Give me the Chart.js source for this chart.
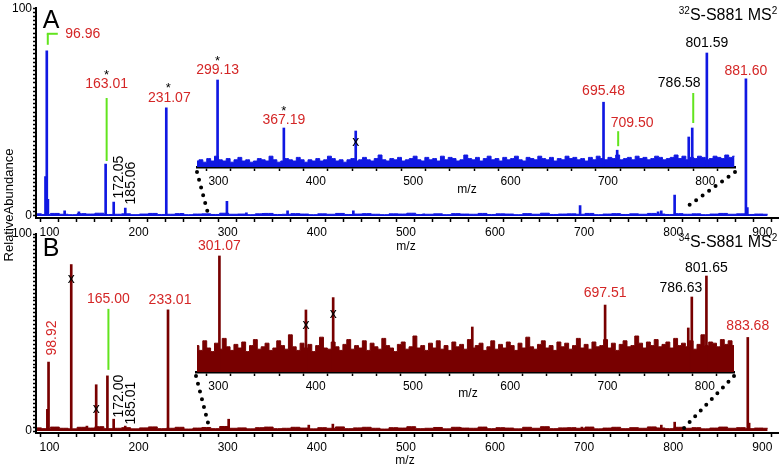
<!DOCTYPE html>
<html><head><meta charset="utf-8">
<script src="https://cdn.jsdelivr.net/npm/chart.js@4.4.0/dist/chart.umd.min.js"></script>
<style>
html,body{margin:0;padding:0;background:#fff;}
#wrap{position:relative;width:780px;height:468px;overflow:hidden;font-family:"Liberation Sans",Arial,sans-serif;}
canvas{position:absolute;left:0;}
.t{position:absolute;white-space:nowrap;color:#000;transform:translate(-50%,-50%);line-height:1;}
.t sup{font-size:10px;vertical-align:6px;}
</style></head><body>
<div id="wrap">
<canvas id="mainA" width="780" height="255" style="top:0"></canvas>
<canvas id="insetA" width="780" height="255" style="top:0"></canvas>
<canvas id="mainB" width="780" height="248" style="top:220px"></canvas>
<canvas id="insetB" width="780" height="248" style="top:220px"></canvas>
<div class="t" style="left:51px;top:19px;font-size:25px">A</div>
<div class="t" style="left:51px;top:247px;font-size:25px">B</div>
<div class="t" style="left:728px;top:14px;font-size:16px"><sup>32</sup>S-S881 MS<sup>2</sup></div>
<div class="t" style="left:728px;top:241px;font-size:16px"><sup>34</sup>S-S881 MS<sup>2</sup></div>
<div class="t" style="left:8px;top:205px;font-size:13px;transform:translate(-50%,-50%) rotate(-90deg)">RelativeAbundance</div>
<div class="t" style="left:406px;top:246px;font-size:12px">m/z</div>
<div class="t" style="left:405px;top:460px;font-size:12px">m/z</div>
<div class="t" style="left:467px;top:189px;font-size:12px">m/z</div>
<div class="t" style="left:468px;top:393px;font-size:12px">m/z</div>
</div>
<script>
// 主譜 A (32S): 峰位與相對強度
const peaksA_mz=[95.5,96.96,98.2,117,133,163.01,172.05,185.06,231.07,248,299.13,321,340,367.19,441,520,695.48,783,786.58,801.59,881.6,883.2];
const peaksA_int=[19,79.5,8,2.5,2,25,6.7,3.8,52,1.2,7,1.5,1.2,2.5,2.5,1,5,2,2.5,10,66,4];
// 放大區 A
const insetA_mz=[299.13,367.19,441,695.48,709.5,783,786.58,801.59];
const insetA_int=[72.5,32.5,30,54,14,25,32.5,95];
// 主譜 B (34S)
const peaksB_mz=[97.6,98.92,124.4,142,152.4,165.0,172.0,185.01,233.01,301.07,391,418,561,697.51,783,786.63,801.65,883.68,885.2];
const peaksB_int=[11,35,84.5,2.5,23.5,28,6,2.5,61.5,6,3,3.5,1.8,2,1.5,3,4.5,47.5,4];
// 放大區 B
const insetB_mz=[301.07,390,418,561,697.51,783,786.63,801.65];
const insetB_int=[96.7,51.7,62,37.5,55.8,36.7,62.5,80];
// 基線雜訊 (主譜每10 m/z 從86起, 放大區每4 m/z 從278起)
const mainNoiseA=[1.0,0.7,1.2,0.8,0.6,1.1,0.9,1.3,0.7,0.8,1.0,0.6,0.9,1.2,0.7,0.8,1.1,0.6,0.9,1.0,0.7,1.3,0.8,0.9,0.6,1.0,1.2,0.7,0.8,1.1,0.9,0.6,1.0,0.8,1.2,0.7,0.9,1.1,0.8,0.6,1.0,0.9,1.3,0.7,0.8,1.0,0.6,1.1,0.9,0.8,1.2,0.7,1.0,0.9,0.6,1.1,0.8,1.3,0.7,0.9,1.0,0.8,1.2,0.6,0.9,1.1,0.7,1.0,0.8,1.2,0.9,0.7,1.1,0.8,1.0,0.6,0.9,1.2,0.8,1.0,0.7,0.9,0.8];
const mainNoiseB=[1.6,1.2,2.0,1.4,1.1,1.9,1.5,2.2,1.2,1.4,1.7,1.1,1.6,2.1,1.2,1.4,1.9,1.0,1.5,1.8,1.2,2.3,1.4,1.6,1.1,1.7,2.0,1.2,1.4,1.9,1.5,1.1,1.7,1.4,2.1,1.2,1.6,1.9,1.4,1.0,1.7,1.5,2.2,1.2,1.4,1.8,1.1,1.9,1.5,1.4,2.0,1.2,1.7,1.5,1.1,1.9,1.4,2.2,1.2,1.6,1.7,1.4,2.0,1.1,1.5,1.9,1.2,1.7,1.4,2.1,1.5,1.2,1.9,1.4,1.7,1.1,1.5,2.0,1.4,1.7,1.2,1.5,1.4];
const noiseInsetA=[5,6,4,7,5,9,6,5,7,4,6,8,5,6,4,5,7,6,5,9,
6,4,5,7,6,5,8,6,4,6,5,7,5,6,9,7,5,6,4,6,
7,5,6,8,6,5,7,10,6,5,7,6,8,5,6,7,9,6,5,8,
6,7,5,9,6,8,7,5,6,10,7,6,8,5,7,9,6,7,5,8,
6,7,9,6,5,8,7,6,9,7,6,8,5,7,6,9,7,8,6,7,
5,8,6,9,7,6,8,7,10,6,7,8,6,9,7,8,6,7,9,8,
6,7,8,10,7,9,6,8,7,9,8,6,7,9,8,7,10,8,9];
const noiseInsetB=[22,18,26,20,17,24,19,28,21,18,23,20,25,17,22,27,19,21,24,18,
20,26,22,19,31,21,18,24,20,23,17,22,29,20,19,25,21,18,23,27,
19,22,20,26,18,24,21,19,28,22,20,17,23,25,19,21,30,20,22,18,
24,20,26,19,22,18,25,21,23,19,27,20,22,24,18,21,26,19,23,20,
25,22,18,24,20,29,21,19,23,26,20,22,18,25,21,24,19,22,28,20,
23,19,25,21,22,27,20,24,18,23,26,21,22,30,24,20,25,22,27,21,
23,25,20,28,22,24,21,26,19,23,31,22,25,24,21,27,23,26,22];

const RED='#d42626',GRN='#62e41e',BLUE='#1018e2',DRED='#780000';
const FONT='14px "Liberation Sans",Arial,sans-serif';
const xy=(mz,v)=>mz.map((m,i)=>({x:m,y:v[i]}));
const grid=(v,x0,step)=>v.map((y,i)=>({x:x0+i*step,y}));

function txt(ctx,s,x,y,color,rot,font){
  ctx.save();ctx.fillStyle=color||'#000';ctx.font=font||FONT;ctx.textAlign='center';ctx.textBaseline='middle';
  ctx.translate(x,y);if(rot)ctx.rotate(-Math.PI/2);ctx.fillText(s,0,0);ctx.restore();
}
function seg(ctx,x1,y1,x2,y2,color){
  ctx.save();ctx.strokeStyle=color||GRN;ctx.lineWidth=2;ctx.beginPath();ctx.moveTo(x1,y1);ctx.lineTo(x2,y2);ctx.stroke();ctx.restore();
}
function dots(ctx,x1,y1,x2,y2){
  ctx.save();ctx.strokeStyle='#000';ctx.lineWidth=4;ctx.lineCap='round';ctx.setLineDash([0,8]);
  ctx.beginPath();ctx.moveTo(x1,y1);ctx.lineTo(x2,y2);ctx.stroke();ctx.restore();
}
const star=(ctx,x,y)=>txt(ctx,'*',x,y,'#000',false,'13px "Liberation Sans",Arial');
const xmark=(ctx,x,y)=>txt(ctx,'x',x,y,'#000',false,'14px "Liberation Sans",Arial');
// 峰頂像素
function peakTop(c,mzs,ints,mz){const i=mzs.indexOf(mz);return[c.scales.x.getPixelForValue(mz),c.scales.y.getPixelForValue(ints[i])];}

function mainChart(id,peaksMz,peaksInt,noise,color,padTop,xh,plugin){
  return new Chart(document.getElementById(id),{
    type:'bar',
    data:{datasets:[
      {type:'bar',data:xy(peaksMz,peaksInt),backgroundColor:color,barThickness:2,order:1},
      {type:'line',data:grid(noise,86,10),borderColor:color,backgroundColor:color,borderWidth:1,pointRadius:0,stepped:'middle',fill:'origin',order:2}
    ]},
    options:{responsive:false,animation:false,
      layout:{padding:{left:0,right:2,top:padTop,bottom:0}},
      plugins:{legend:{display:false},tooltip:{enabled:false}},
      scales:{
        x:{type:'linear',min:84.85,max:917.6,offset:false,
          afterFit:s=>{s.height=xh;},
          afterBuildTicks:s=>{const t=[];for(let v=100;v<=900;v+=20)t.push({value:v});s.ticks=t;},
          grid:{drawOnChartArea:false,tickLength:4,color:'#000',tickWidth:1.5},
          border:{color:'#000',width:2},
          ticks:{autoSkip:false,maxRotation:0,padding:3,color:'#000',font:{size:12},callback:v=>v%100===0?v:''}},
        y:{min:-1,max:100,
          afterFit:s=>{s.width=36;},
          afterBuildTicks:s=>{const t=[];for(let v=0;v<=100;v+=2)t.push({value:v});s.ticks=t;},
          grid:{drawOnChartArea:false,tickLength:3,color:'#000',tickWidth:1.5},
          border:{color:'#000',width:2},
          ticks:{autoSkip:false,padding:1,color:'#000',font:{size:12},callback:v=>(v===0||v===100)?v:''}}
      }},
    plugins:[plugin]
  });
}

function insetChart(id,mz,ints,noise,color,pad,plugin){
  return new Chart(document.getElementById(id),{
    type:'bar',
    data:{datasets:[
      {type:'bar',data:xy(mz,ints),backgroundColor:color,barThickness:2,order:1},
      {type:'line',data:grid(noise,278,4),borderColor:color,backgroundColor:color,borderWidth:1,pointRadius:0,stepped:'middle',fill:'origin',order:2}
    ]},
    options:{responsive:false,animation:false,
      layout:{padding:{left:pad.left,right:pad.right,top:pad.top,bottom:pad.bottom}},
      plugins:{legend:{display:false},tooltip:{enabled:false}},
      scales:{
        x:{type:'linear',min:pad.xmin,max:pad.xmax,offset:false,
          afterFit:s=>{s.height=20;},
          afterBuildTicks:s=>{const t=[];for(let v=300;v<=825;v+=25)t.push({value:v});s.ticks=t;},
          grid:{drawOnChartArea:false,tickLength:4,color:'#000',tickWidth:1.5},
          border:{color:'#000',width:2.5},
          ticks:{autoSkip:false,maxRotation:0,padding:3,color:'#000',font:{size:12},callback:v=>v%100===0?v:''}},
        y:{display:false,min:0,max:100}
      }},
    plugins:[plugin]
  });
}

const cA=mainChart('mainA',peaksA_mz,peaksA_int,mainNoiseA,BLUE,7,37,{id:'labA',afterDraw(c){
  const ctx=c.ctx;let x,y;
  [x,y]=peakTop(c,peaksA_mz,peaksA_int,96.96);txt(ctx,'96.96',x+36,y-17,RED);seg(ctx,x+1,y-6,x+1,y-17);seg(ctx,x,y-17,x+11,y-17);
  [x,y]=peakTop(c,peaksA_mz,peaksA_int,163.01);txt(ctx,'163.01',x+1,y-80,RED);star(ctx,x+1,y-89);seg(ctx,x+1,y-3,x+1,y-66);
  [x,y]=peakTop(c,peaksA_mz,peaksA_int,172.05);txt(ctx,'172.05',x+5,y-25,'#000',true);
  [x,y]=peakTop(c,peaksA_mz,peaksA_int,185.06);txt(ctx,'185.06',x+6,y-25,'#000',true);
  [x,y]=peakTop(c,peaksA_mz,peaksA_int,231.07);txt(ctx,'231.07',x+3,y-10,RED);star(ctx,x+2,y-19);
  [x,y]=peakTop(c,peaksA_mz,peaksA_int,881.6);txt(ctx,'881.60',x,y-8,RED);
}});
const iA=insetChart('insetA',insetA_mz,insetA_int,noiseInsetA,BLUE,{left:197,right:45,top:47,bottom:68,xmin:278,xmax:830.5},{id:'labIA',afterDraw(c){
  const ctx=c.ctx;let x,y;const a=c.chartArea;
  [x,y]=peakTop(c,insetA_mz,insetA_int,299.13);txt(ctx,'299.13',x,y-10,RED);star(ctx,x,y-19);
  [x,y]=peakTop(c,insetA_mz,insetA_int,367.19);txt(ctx,'367.19',x,y-8,RED);star(ctx,x,y-17);
  [x,y]=peakTop(c,insetA_mz,insetA_int,441);xmark(ctx,x,y+11);
  [x,y]=peakTop(c,insetA_mz,insetA_int,695.48);txt(ctx,'695.48',x,y-11,RED);
  [x,y]=peakTop(c,insetA_mz,insetA_int,709.5);txt(ctx,'709.50',x+15,y-27,RED);seg(ctx,x+1,y-4,x+1,y-19);
  [x,y]=peakTop(c,insetA_mz,insetA_int,786.58);txt(ctx,'786.58',x-13,y-45,'#000');seg(ctx,x+1,y-5,x+1,y-35);
  [x,y]=peakTop(c,insetA_mz,insetA_int,801.59);txt(ctx,'801.59',x,y-10,'#000');
  const mx=cA.scales.x,my=cA.scales.y;
  dots(ctx,a.left,a.bottom+5,mx.getPixelForValue(278),my.getPixelForValue(1));
  dots(ctx,a.right,a.bottom+5,mx.getPixelForValue(816.7),my.getPixelForValue(4.8));
}});

const cB=mainChart('mainB',peaksB_mz,peaksB_int,mainNoiseB,DRED,14,35,{id:'labB',afterDraw(c){
  const ctx=c.ctx;let x,y;
  [x,y]=peakTop(c,peaksB_mz,peaksB_int,98.92);txt(ctx,'98.92',x+4,y-24,RED,true);
  [x,y]=peakTop(c,peaksB_mz,peaksB_int,124.4);xmark(ctx,x,y+15);
  [x,y]=peakTop(c,peaksB_mz,peaksB_int,152.4);xmark(ctx,x,y+24);
  [x,y]=peakTop(c,peaksB_mz,peaksB_int,165.0);txt(ctx,'165.00',x+1,y-77,RED);seg(ctx,x+1,y-6,x+1,y-67);
  [x,y]=peakTop(c,peaksB_mz,peaksB_int,172.0);txt(ctx,'172.00',x+5,y-23,'#000',true);
  [x,y]=peakTop(c,peaksB_mz,peaksB_int,185.01);txt(ctx,'185.01',x+6,y-23,'#000',true);
  [x,y]=peakTop(c,peaksB_mz,peaksB_int,233.01);txt(ctx,'233.01',x+2,y-10,RED);
  [x,y]=peakTop(c,peaksB_mz,peaksB_int,883.68);txt(ctx,'883.68',x,y-11,RED);
}});
const iB=insetChart('insetB',insetB_mz,insetB_int,noiseInsetB,DRED,{left:196,right:46,top:32,bottom:76,xmin:277,xmax:830},{id:'labIB',afterDraw(c){
  const ctx=c.ctx;let x,y;const a=c.chartArea;
  [x,y]=peakTop(c,insetB_mz,insetB_int,301.07);txt(ctx,'301.07',x,y-10,RED);
  [x,y]=peakTop(c,insetB_mz,insetB_int,390);xmark(ctx,x,y+15);
  [x,y]=peakTop(c,insetB_mz,insetB_int,418);xmark(ctx,x,y+17);
  [x,y]=peakTop(c,insetB_mz,insetB_int,697.51);txt(ctx,'697.51',x,y-12,RED);
  [x,y]=peakTop(c,insetB_mz,insetB_int,786.63);txt(ctx,'786.63',x-11,y-9,'#000');
  [x,y]=peakTop(c,insetB_mz,insetB_int,801.65);txt(ctx,'801.65',x,y-8,'#000');
  const mx=cB.scales.x,my=cB.scales.y;
  dots(ctx,a.left,a.bottom+4,mx.getPixelForValue(278),my.getPixelForValue(4));
  dots(ctx,a.right,a.bottom+4,mx.getPixelForValue(812),my.getPixelForValue(1.5));
}});
</script>
</body></html>
